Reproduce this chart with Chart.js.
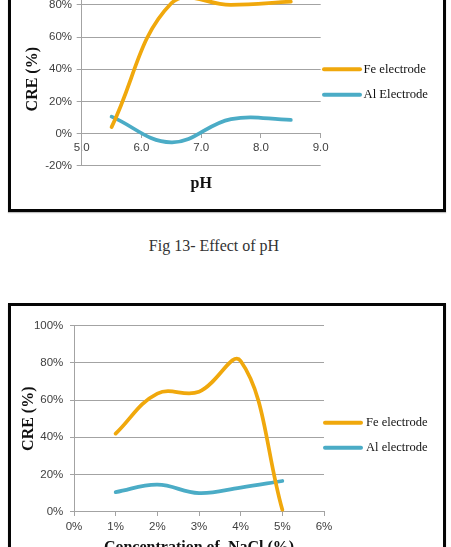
<!DOCTYPE html>
<html>
<head>
<meta charset="utf-8">
<script src="https://cdn.jsdelivr.net/npm/chart.js@4.4.1/dist/chart.umd.min.js"></script>
<style>
  html, body { margin: 0; padding: 0; background: #fff; }
  body { position: relative; width: 451px; height: 547px; overflow: hidden; }
  .frame { position: absolute; box-sizing: border-box; border: 3px solid #050505; box-shadow: 0 1px 1px rgba(0,0,0,0.25); }
  canvas { position: absolute; }
  .caption { position: absolute; left: 0; width: 428px; top: 235.6px; line-height: 20px; text-align: center;
             font-family: "Liberation Serif", "Times New Roman", serif; font-size: 16px; color: #333; }
</style>
</head>
<body>
<div class="frame" style="left:8px; top:-50px; width:438px; height:262px;"></div>
<div class="frame" style="left:8px; top:303px; width:438px; height:300px;"></div>
<canvas id="phChart" width="432" height="270" style="left:11px; top:-60px;"></canvas>
<div class="caption">Fig 13- Effect of pH</div>
<canvas id="naclChart" width="432" height="241" style="left:11px; top:306px;"></canvas>
<script>
// ---- Data ----
const phValues   = [5.5, 6.5, 7.5, 8.5];
const feByPh     = [4, 81, 80, 82];
const alByPh     = [10.5, -5.5, 9, 8.5];
const phXTicks   = [5, 6, 7, 8, 9];
const phYTicks   = [-20, 0, 20, 40, 60, 80, 100];

const naclValues = [1, 2, 3, 4, 5];
const feByNacl   = [42, 63.5, 64.5, 81, 1];
const alByNacl   = [10.5, 14.5, 10, 13, 16.5];
const naclXTicks = [0, 1, 2, 3, 4, 5, 6];
const naclYTicks = [0, 20, 40, 60, 80, 100];

const FE_COLOR = '#F0A80C';
const AL_COLOR = '#4BACC6';
const GRID = '#a3a3a3';
const TICK_FONT = { family: '"Liberation Sans", Arial, sans-serif', size: 11.5 };
const TITLE_FONT = { family: '"Liberation Serif", "Times New Roman", serif', size: 16, weight: 'bold' };

const pairs = (xs, ys) => xs.map((x, i) => ({ x: x, y: ys[i] }));

const lineLegend = {
  id: 'lineLegend',
  afterDraw(chart, args, opts) {
    const ctx = chart.ctx;
    chart.data.datasets.forEach((ds, i) => {
      const y = opts.y[i];
      ctx.save();
      ctx.strokeStyle = ds.borderColor;
      ctx.lineWidth = opts.lineWidth;
      ctx.lineCap = 'round';
      ctx.beginPath();
      ctx.moveTo(opts.x + opts.lineWidth / 2, y);
      ctx.lineTo(opts.x + opts.length - opts.lineWidth / 2, y);
      ctx.stroke();
      ctx.fillStyle = opts.color;
      ctx.font = opts.font;
      ctx.textBaseline = 'middle';
      ctx.textAlign = 'left';
      ctx.fillText(ds.label, opts.x + opts.length + opts.gap, y);
      ctx.restore();
    });
  }
};

function lineDataset(label, xs, ys, color) {
  return {
    label: label,
    data: pairs(xs, ys),
    borderColor: color,
    backgroundColor: color,
    borderWidth: 3.75,
    borderCapStyle: 'round',
    borderJoinStyle: 'round',
    pointRadius: 0,
    tension: 0.4,
    fill: false
  };
}

function makeChart(id, cfg) {
  return new Chart(document.getElementById(id), {
    type: 'line',
    data: { datasets: cfg.datasets },
    plugins: [lineLegend],
    options: {
      responsive: false,
      animation: false,
      devicePixelRatio: 1,
      events: [],
      layout: { padding: cfg.padding },
      plugins: {
        legend: { display: false },
        tooltip: { enabled: false },
        lineLegend: cfg.legend
      },
      scales: {
        x: {
          type: 'linear',
          position: { y: cfg.xAxisAt },
          min: cfg.xTicks[0],
          max: cfg.xTicks[cfg.xTicks.length - 1],
          afterBuildTicks: s => { s.ticks = cfg.xTicks.map(v => ({ value: v })); },
          grid: { drawOnChartArea: false, drawTicks: true, tickLength: 4, color: GRID },
          border: { display: true, color: GRID, width: 1 },
          ticks: { font: TICK_FONT, color: '#404040', padding: cfg.xTickPad, maxRotation: 0,
                   callback: cfg.xFormat },
          title: { display: true, text: cfg.xTitle, font: TITLE_FONT, color: '#111',
                   padding: { top: cfg.xTitlePad, bottom: 0 } }
        },
        y: {
          type: 'linear',
          min: cfg.yTicks[0],
          max: cfg.yTicks[cfg.yTicks.length - 1],
          afterBuildTicks: s => { s.ticks = cfg.yTicks.map(v => ({ value: v })); },
          afterFit: s => { s.width = cfg.yWidth; },
          grid: { drawOnChartArea: true, drawTicks: true, tickLength: cfg.yTickLen, color: GRID, lineWidth: 1 },
          border: { display: true, color: GRID, width: 1 },
          ticks: { font: TICK_FONT, color: '#404040', padding: cfg.yTickPad,
                   callback: v => v + '%' },
          title: { display: true, text: cfg.yTitle, font: TITLE_FONT, color: '#111',
                   padding: { top: cfg.yTitlePad, bottom: 0 } }
        }
      }
    }
  });
}

makeChart('phChart', {
  datasets: [
    lineDataset('Fe electrode', phValues, feByPh, FE_COLOR),
    lineDataset('Al Electrode', phValues, alByPh, AL_COLOR)
  ],
  padding: { left: 0, top: 32.7, right: 122.3, bottom: 44.3 },
  xAxisAt: 0,
  xTicks: phXTicks,
  yTicks: phYTicks,
  xFormat: v => Number(v).toFixed(1),
  xTickPad: 3.8,
  xTitle: 'pH',
  xTitlePad: 15.8,
  yTitle: 'CRE (%)     ',
  yTitlePad: 12.4,
  yWidth: 70.7,
  yTickLen: 5,
  yTickPad: 4.7,
  legend: { x: 311, y: [129.3, 154.7], length: 40, lineWidth: 4, gap: 1.5,
            font: '12.7px "Liberation Serif", "Times New Roman", serif', color: '#111' }
});

makeChart('naclChart', {
  datasets: [
    lineDataset('Fe electrode', naclValues, feByNacl, FE_COLOR),
    lineDataset('Al electrode', naclValues, alByNacl, AL_COLOR)
  ],
  padding: { left: 0, top: 19.7, right: 119, bottom: 35.3 },
  xAxisAt: 0,
  xTicks: naclXTicks,
  yTicks: naclYTicks,
  xFormat: v => v + '%',
  xTickPad: 4,
  xTitle: 'Concentration of  NaCl (%)',
  xTitlePad: 0.5,
  yTitle: 'CRE (%)',
  yTitlePad: 8.4,
  yWidth: 63,
  yTickLen: 4,
  yTickPad: 6.7,
  legend: { x: 312, y: [116.7, 141.7], length: 40, lineWidth: 4, gap: 3,
            font: '12.5px "Liberation Serif", "Times New Roman", serif', color: '#111' }
});
</script>
</body>
</html>
